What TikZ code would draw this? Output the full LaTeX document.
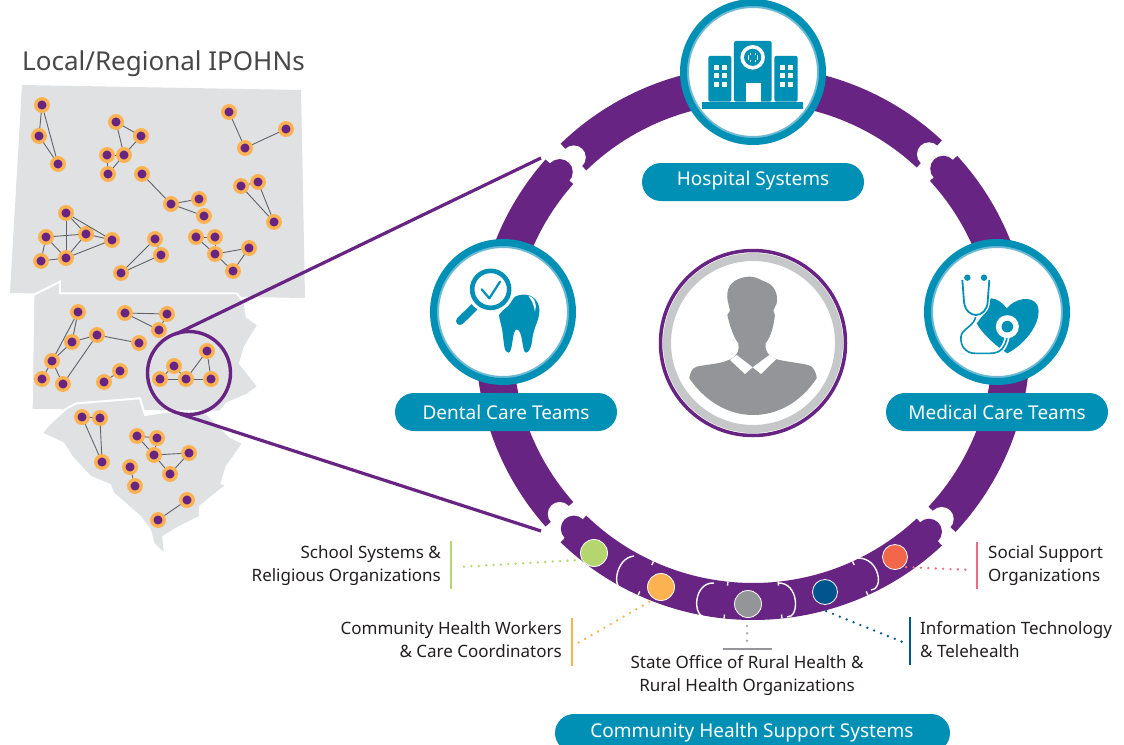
\documentclass[tikz,border=0pt]{standalone}
\usepackage{fontspec}
\setmainfont{Noto Sans}
\definecolor{ring}{HTML}{682482}
\definecolor{teal}{HTML}{0090B5}
\definecolor{teallt}{HTML}{6CB9D3}
\definecolor{mapg}{HTML}{DFE1E3}
\definecolor{edgeg}{HTML}{626366}
\definecolor{dotor}{HTML}{FDB252}
\definecolor{persg}{HTML}{939598}
\definecolor{rimg}{HTML}{C5C7C9}
\definecolor{grn}{HTML}{B5D56F}
\definecolor{blu}{HTML}{00558F}
\definecolor{rd}{HTML}{F2674A}
\definecolor{pnk}{HTML}{F26A7F}
\definecolor{txt}{HTML}{231F20}
\tikzset{
  net/.style={circle,fill=ring,draw=dotor,line width=3.4pt,inner sep=0pt,minimum size=12.5pt},
  edge/.style={draw=edgeg,line width=0.9pt},
  pill/.style={rounded corners=19pt,fill=teal},
  pilltext/.style={text=white,font=\fontsize{19}{22}\selectfont,inner sep=0pt},
  lab/.style={text=txt,font=\fontsize{17}{23}\selectfont,inner sep=0pt},
  bullet/.style={circle,draw=white,line width=0.8pt,inner sep=0pt,minimum size=27pt},
  zoomline/.style={draw=ring,line width=3.2pt},
  leader/.style={line width=2.6pt,line cap=round,dash pattern=on 0pt off 7.4pt},
  bar/.style={line width=2.2pt},
  medal/.style={circle,fill=white,draw=teallt,line width=6pt,inner sep=0pt,minimum size=134pt},
  medalrim/.style={circle,draw=teal,line width=7pt,inner sep=0pt,minimum size=139pt},
}
\newcommand{\ringseg}[2]{\fill[ring] (#1:277pt) arc[start angle=#1,end angle=#2,radius=277pt] -- (#2:240pt) arc[start angle=#2,end angle=#1,radius=240pt] -- cycle;}
\begin{document}
\begin{tikzpicture}[x=1pt,y=-1pt]
\useasboundingbox (0,0) rectangle (1124,744);
\fill[white] (0,0) rectangle (1124,744);
% maps
\fill[mapg] (22,85) -- (301,90) -- (305,298) -- (10,293) -- cycle;
\begin{scope}[shift={(0pt,-280pt)},x=0.3333pt,y=-0.3333pt]
\filldraw[mapg,draw=white,line width=2pt] (100,45) -- (180,5) -- (180,40) -- (710,40) -- (735,70) -- (740,110) -- (775,135) -- (735,200) -- (720,250) -- (775,320) -- (740,345) -- (680,370) -- (660,395) -- (95,390) -- cycle;
\filldraw[mapg,draw=white,line width=2pt] (125,460) -- (150,430) -- (200,385) -- (230,370) -- (420,355) -- (435,405) -- (500,395) -- (620,400) -- (690,470) -- (730,490) -- (680,560) -- (665,610) -- (680,615) -- (600,680) -- (600,710) -- (540,740) -- (490,770) -- (495,825) -- (460,790) -- (450,750) -- (420,710) -- (340,640) -- (330,615) -- (270,590) -- (215,530) -- (190,490) -- cycle;
\end{scope}
% network nodes
\foreach \n/\x/\y in {a1/42/105,a2/39/136,a3/58/164,b1/116/122,b2/141/136,b3/124/155,b4/107/155,b5/108/174,c1/229/112,c2/245/148,c3/286/129,d1/142/174,d2/171/204,d3/199/199,d4/204/216,e1/241/186,e2/258/182,e3/274/222,f1/66/213,f2/46/237,f3/86/234,f4/112/240,f5/66/258,f6/41/261,g1/155/239,g2/161/255,g3/121/273,h1/196/237,h2/215/237,h3/215/254,h4/249/248,h5/233/271,i1/78/312,i2/72/342,i3/97/335,i4/139/343,i5/52/361,i6/42/379,i7/63/384,j1/125/313,j2/167/314,j3/159/330,k1/120/371,k2/104/382,l1/207/351,l2/174/366,l3/160/379,l4/186/379,l5/211/379,m1/82/417,m2/100/418,m3/102/462,n1/137/436,n2/157/438,n3/154/455,n4/189/453,n5/170/474,o1/130/467,o2/135/486,p1/187/500,p2/158/520}
  \node[net] (\n) at (\x,\y) {};
\foreach \u/\v in {a1/a2,a1/a3,a2/a3,b1/b2,b1/b3,b2/b3,b3/b4,b4/b5,b3/b5,c1/c2,c2/c3,d1/d2,d2/d3,d2/d4,e1/e2,e1/e3,e2/e3,f1/f5,f1/f3,f1/f4,f2/f3,f3/f4,f2/f5,f3/f5,f4/f5,f2/f6,f6/f5,g1/g2,g1/g3,g2/g3,h1/h2,h1/h3,h2/h3,h3/h4,h3/h5,h4/h5,i1/i2,i1/i5,i2/i3,i3/i4,i2/i5,i3/i7,i5/i6,i5/i7,j1/j2,j1/j3,j2/j3,k1/k2,l1/l4,l1/l5,l3/l4,l4/l5,l2/l3,l2/l4,m1/m2,m1/m3,m2/m3,n1/n2,n1/n3,n2/n3,n3/n4,n3/n5,n4/n5,o1/o2,p1/p2}
  \draw[edge] (\u) -- (\v);
\node[anchor=base west,inner sep=0pt,text=black!72,font=\fontsize{26}{30}\selectfont] (title) at (22,70) {Local/Regional IPOHNs};
% ring
\begin{scope}[shift={(753pt,-343pt)},x=1pt,y=1pt]
\ringseg{47}{134}
\ringseg{138.5}{221.5}
\ringseg{-43}{42.5}
\ringseg{226}{313}
% notches
\fill[white] (134:258pt) circle[radius=12pt];
\fill[white] (47:258pt) circle[radius=12pt];
\fill[white] (221.5:258pt) circle[radius=12pt];
\fill[white] (-43:258pt) circle[radius=12pt];
% knobs
\fill[ring] (138.5:258pt) circle[radius=13pt];
\fill[ring] (42.5:258pt) circle[radius=13pt];
\fill[ring] (226:258pt) circle[radius=13pt];
\fill[ring] (313:258pt) circle[radius=13pt];
% internal joints
\foreach \a/\b in {245.5/-1, 264/-1, 276/1, 294.5/1}{
  \draw[white,line width=1.4pt] ({\a}:240pt) -- ({\a}:244pt);
  \draw[white,line width=1.4pt] ({\a}:273pt) -- ({\a}:277pt);
  \draw[white,line width=1.4pt] ({\a}:244pt) arc[start angle={\a+90*\b+ -90*\b*2 +180},delta angle={\b*-0},radius=0pt];
}
\end{scope}
% joints as knobs
\draw[white,line width=1.4pt] (634,556) .. controls (615,558) and (612,590) .. (623,589);
\draw[white,line width=1.4pt] (714,583) .. controls (693,582) and (692,618) .. (706,617);
\draw[white,line width=1.4pt] (778,583) .. controls (799,582) and (800,618) .. (787,617);
\draw[white,line width=1.4pt] (858,558) .. controls (880,558) and (884,590) .. (871,590);
% zoom circle and lines
\node[circle,draw=ring,line width=3.4pt,inner sep=0pt,minimum size=83pt] (zc) at (189,373) {};
\coordinate (zt) at (541,158);
\coordinate (zb) at (541,531);
\draw[zoomline] (176,334) -- (zt);
\draw[zoomline] (180,414) -- (zb);
% medals
\foreach \n/\x/\y in {hosp/753/72,dent/503/312,medi/997/312}{
  \node[medal] (\n) at (\x,\y) {};
  \node[medalrim] (\n r) at (\x,\y) {};
}
% person
\node[circle,fill=white,draw=ring,line width=3.5pt,inner sep=0pt,minimum size=185pt] (person) at (753,343) {};
\node[circle,draw=rimg,line width=8pt,inner sep=0pt,minimum size=172pt] (personr) at (753,343) {};
\begin{scope}[shift={(650pt,-240pt)},x=0.3333pt,y=-0.3333pt]
\fill[persg] (232,160) .. controls (235,125) and (270,110) .. (300,110) .. controls (325,112) and (330,120) .. (345,125) .. controls (375,135) and (385,165) .. (380,190) -- (370,212) -- (375,225) .. controls (370,260) and (365,285) .. (347,310) .. controls (345,330) and (350,345) .. (380,358) .. controls (420,368) and (470,370) .. (485,380) .. controls (495,390) and (500,405) .. (500,415) .. controls (450,490) and (380,525) .. (310,525) .. controls (240,525) and (170,490) .. (118,415) .. controls (120,400) and (125,385) .. (140,380) .. controls (170,373) and (215,372) .. (240,358) .. controls (265,345) and (268,330) .. (265,310) .. controls (250,290) and (240,260) .. (232,225) -- (240,212) .. controls (235,190) and (230,175) .. (232,160) -- cycle;
\fill[white] (240,360) -- (260,345) -- (308,382) -- (285,402) -- cycle;
\fill[white] (378,358) -- (358,345) -- (308,382) -- (333,402) -- cycle;
\end{scope}
% hospital icon
\begin{scope}[shift={(530pt,0pt)},x=0.3333pt,y=-0.3333pt]
\fill[teal] (517,305) rectangle (820,326);
\fill[teal,rounded corners=2pt] (612,305) -- (612,123) -- (725,123) -- (725,305) -- cycle;
\fill[teal,rounded corners=2pt] (535,305) -- (535,168) -- (604,168) -- (604,305) -- cycle;
\fill[teal,rounded corners=2pt] (733,305) -- (733,168) -- (803,168) -- (803,305) -- cycle;
\fill[white] (668,172) circle[radius=12.3pt];
\fill[teal] (668,172) circle[radius=8.6pt];
\fill[white] (660,158) rectangle (677,187);
\fill[white] (654,164) rectangle (683,181);
\fill[teal] (662,160) rectangle (675,185);
\fill[teal] (656,166) rectangle (681,179);
\fill[white] (647,248) rectangle (693,305);
\foreach \x in {552,575,750,774}\foreach \y in {195,219,246}
  \fill[white] (\x,\y) rectangle +(16,16);
\end{scope}
% dental icon
\begin{scope}[shift={(400pt,-230pt)},x=0.3333pt,y=-0.3333pt]
\fill[teal] (345,200) .. controls (370,188) and (410,190) .. (418,235) .. controls (420,270) and (405,280) .. (398,320) .. controls (395,350) and (388,368) .. (378,368) .. controls (365,368) and (370,300) .. (350,298) .. controls (335,300) and (340,368) .. (325,368) .. controls (312,368) and (312,340) .. (308,310) .. controls (305,285) and (298,270) .. (297,255) -- cycle;
\fill[white] (385,197) .. controls (405,200) and (412,225) .. (405,245) .. controls (402,225) and (395,210) .. (385,197) -- cycle;
\draw[teal,line width=8pt,line cap=round] (180,273) -- (222,232);
\fill[white] (272,178) circle[radius=24pt];
\draw[teal,line width=4.6pt] (272,178) circle[radius=18.5pt];
\draw[teal,line width=2.2pt,line cap=round,line join=round] (245,178) -- (268,205) -- (300,155);
\end{scope}
% medical icon
\begin{scope}[shift={(900pt,-230pt)},x=0.3333pt,y=-0.3333pt]
\fill[teal] (320,235) .. controls (345,205) and (395,195) .. (412,225) .. controls (430,270) and (380,340) .. (322,370) .. controls (290,350) and (245,310) .. (230,280) .. controls (245,260) and (265,240) .. (272,205) .. controls (290,205) and (310,220) .. (320,235) -- cycle;
\draw[white,line width=5pt] (322,290) -- (322,320) .. controls (315,350) and (305,370) .. (270,370) -- (225,370) .. controls (195,370) and (180,345) .. (183,320) .. controls (185,295) and (225,290) .. (228,255);
\draw[teal,line width=1.6pt] (322,290) -- (322,320) .. controls (315,350) and (305,370) .. (270,370) -- (225,370) .. controls (195,370) and (180,345) .. (183,320) .. controls (185,295) and (225,290) .. (228,255);
\draw[white,line width=4.4pt] (187,150) -- (192,215) .. controls (195,245) and (215,255) .. (228,255) .. controls (245,255) and (262,240) .. (263,215) -- (268,150);
\draw[teal,line width=1.8pt] (187,150) -- (192,215) .. controls (195,245) and (215,255) .. (228,255) .. controls (245,255) and (262,240) .. (263,215) -- (268,150);
\fill[teal] (202,143) circle[radius=3.2pt];
\fill[teal] (252,143) circle[radius=3.2pt];
\fill[white] (322,290) circle[radius=11.5pt];
\fill[teal] (322,290) circle[radius=5.8pt];
\end{scope}
% bullets
\node[bullet,fill=grn] (bg) at (594,553) {};
\node[bullet,fill=dotor] (bo) at (661,587) {};
\node[bullet,fill=persg] (bk) at (748,604) {};
\node[bullet,fill=blu,minimum size=25pt] (bb) at (825,592) {};
\node[bullet,fill=rd,minimum size=25pt] (br) at (895,557) {};
% bars
\coordinate (lg) at (458,567);
\coordinate (lo) at (578,643);
\coordinate (lk) at (747,645);
\coordinate (lb) at (905,643);
\coordinate (lr) at (972,570);
\draw[leader,grn] (bg.south west) ++(-2,-3) -- (lg);
\draw[leader,dotor] (bo.south west) ++(-2,5) -- (lo);
\draw[leader,persg!85] (bk.south) ++(-1,8) -- (lk);
\draw[leader,blu] (bb.south east) ++(-8,10) -- (lb);
\draw[leader,pnk] (br.south east) ++(2,1) -- (lr);
\draw[bar,grn] (451,541) -- (451,589);
\draw[bar,dotor] (572,618) -- (572,666);
\draw[bar,persg] (723,649) -- (772,649);
\draw[bar,blu] (910,617) -- (910,665);
\draw[bar,pnk] (977,542) -- (977,589);
% labels
\node[lab,anchor=east,align=right] (lb1) at (441,566) {School Systems \&\\Religious Organizations};
\node[lab,anchor=east,align=right] (lb2) at (562,640) {Community Health Workers\\\& Care Coordinators};
\node[lab,anchor=center,align=center] (lb3) at (747,676) {State Office of Rural Health \&\\Rural Health Organizations};
\node[lab,anchor=west,align=left] (lb4) at (920,640) {Information Technology\\\& Telehealth};
\node[lab,anchor=west,align=left] (lb5) at (988,566) {Social Support\\Organizations};
% pills
\fill[pill] (642,163) rectangle (864,201);
\fill[pill] (395,393) rectangle (617,431);
\fill[pill] (886,393) rectangle (1108,431);
\begin{scope}
\clip (0,0) rectangle (1124,744);
\fill[pill] (555,714) rectangle (950,752);
\end{scope}
\node[pilltext] (p1) at (753,181) {Hospital Systems};
\node[pilltext] (p2) at (506,412) {Dental Care Teams};
\node[pilltext] (p3) at (997,412) {Medical Care Teams};
\node[pilltext] (p4) at (752,733) {Community Health Support Systems};
\end{tikzpicture}
\end{document}
